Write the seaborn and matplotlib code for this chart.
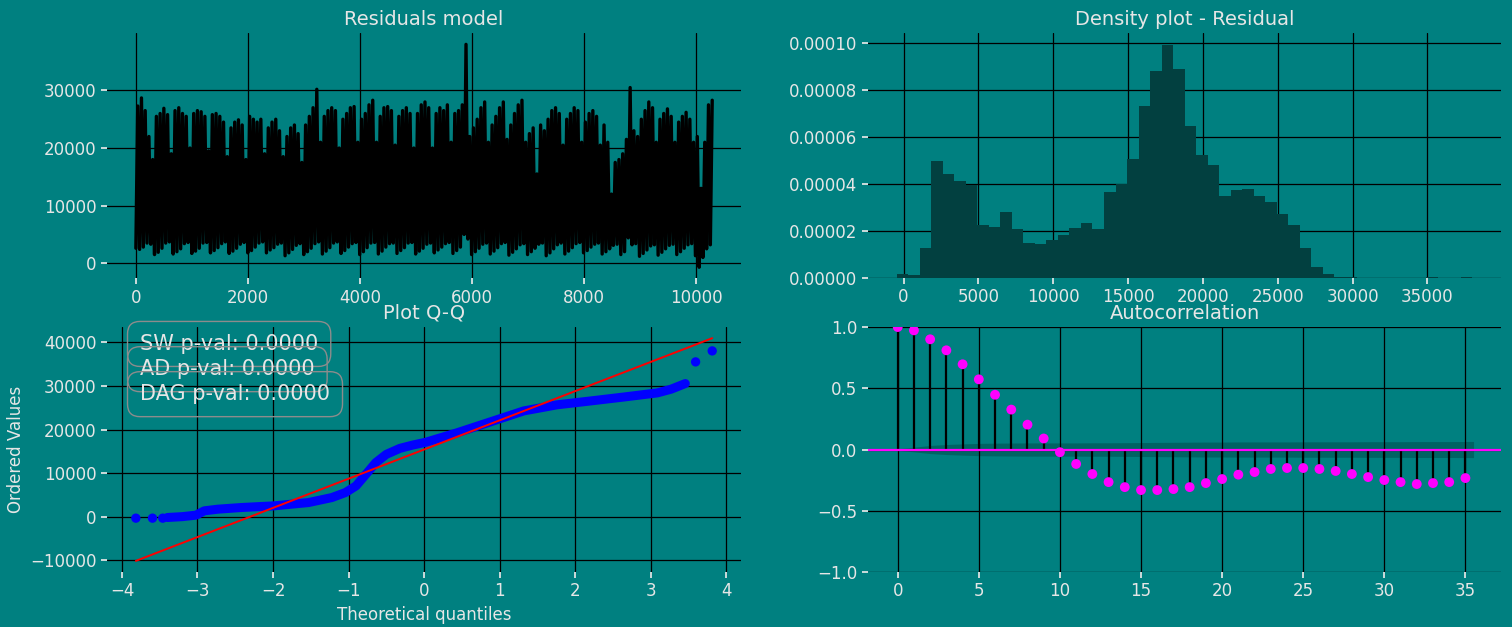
import numpy as np
import pandas as pd
import matplotlib
matplotlib.use("Agg")
import matplotlib.pyplot as plt
from matplotlib.ticker import FormatStrFormatter
import seaborn as sns

# Residual series: number of observations, and the alternating
# trough / peak values read off the picture (5 per weekly-ish cluster)
n_obs = 10290
resid_peaks = [
    27300, 28700, 26500, 22000, 18000,
    25500, 26000, 26900, 25800, 19000,
    26500, 27000, 26000, 25500, 20000,
    26000, 26500, 26300, 25500, 19500,
    25800, 26000, 25500, 24500, 18500,
    23500, 24500, 24900, 24000, 18000,
    25500, 25000, 24500, 25000, 19000,
    23500, 24500, 25000, 23000, 18500,
    22000, 23500, 24000, 22500, 17500,
    24000, 25500, 27000, 30200, 21000,
    25500, 26500, 27000, 26500, 20000,
    25000, 26000, 27000, 27200, 21000,
    25000, 26000, 27500, 28300, 21000,
    25500, 27000, 27200, 26500, 20500,
    25500, 26500, 27000, 26000, 20000,
    26000, 27500, 28000, 27000, 20000,
    26000, 27000, 26500, 27500, 21000,
    26000, 26500, 27500, 38000, 22000,
    23500, 25000, 27000, 28000, 21000,
    24000, 25500, 27000, 28000, 21500,
    24000, 26000, 27500, 28300, 21000,
    22500, 23500, 15500, 24000, 23000,
    25000, 26500, 27000, 26000, 20500,
    25000, 26000, 27000, 26500, 21000,
    24500, 26000, 26500, 25500, 20500,
    24000, 21000, 12000, 17500, 18000,
    19000, 21500, 30500, 23000, 22000,
    25000, 26500, 28000, 27000, 21000,
    25000, 26000, 26800, 25500, 21000,
    24500, 25500, 26200, 25000, 21000,
    22000, 13000, 21000, 27500, 28300,
]
resid_troughs = [
    2600, 2400, 2800, 3500, 3300,
    1500, 1900, 2600, 3500, 3700,
    1600, 2000, 2500, 3400, 3600,
    1700, 2100, 2600, 3500, 3600,
    1800, 2200, 2700, 3400, 3700,
    1700, 2100, 2600, 3300, 3600,
    1800, 2200, 2800, 3500, 3700,
    1800, 2300, 2700, 3300, 3500,
    1300, 1800, 2400, 3100, 3400,
    1500, 2000, 2600, 3400, 3700,
    1600, 2100, 2700, 3500, 3700,
    1700, 2200, 2800, 3400, 3600,
    1500, 2000, 2700, 3500, 3600,
    1600, 2100, 2800, 3400, 3500,
    1700, 2200, 2700, 3500, 3600,
    1600, 2100, 2600, 3300, 3500,
    1800, 2300, 2800, 3400, 3600,
    1700, 2200, 2800, 5000, 4200,
    1500, 2000, 2600, 3300, 3500,
    1600, 2100, 2700, 3400, 3600,
    1400, 1900, 2500, 3200, 3400,
    1500, 2000, 2600, 3300, 3500,
    1300, 1800, 2500, 3200, 3500,
    1600, 2100, 2700, 3400, 3600,
    1800, 2200, 2800, 3300, 3500,
    1600, 2000, 2500, 3100, 3300,
    1500, 2000, 4400, 3200, 3400,
    1200, 1700, 2300, 3000, 3200,
    1400, 1900, 2500, 3100, 3300,
    1500, 2000, 2600, 3200, 3400,
    1300, -700, 1000, 2500, 3200,
]

# Density histogram of the residuals
hist_min, hist_max, hist_nbins = -450, 38000, 50
hist_density = [
    1.6e-6, 1.1e-6, 1.26e-5, 5.0e-5, 4.42e-5, 4.11e-5, 3.97e-5, 2.24e-5,
    2.15e-5, 2.79e-5, 2.07e-5, 1.47e-5, 1.43e-5, 1.60e-5, 1.81e-5, 2.11e-5,
    2.32e-5, 2.07e-5, 3.68e-5, 4.02e-5, 5.08e-5, 7.34e-5, 8.82e-5, 9.94e-5,
    8.91e-5, 6.49e-5, 5.25e-5, 4.83e-5, 3.51e-5, 3.73e-5, 3.77e-5, 3.47e-5,
    3.23e-5, 2.71e-5, 2.24e-5, 1.26e-5, 4.7e-6, 1.6e-6, 3e-7, 3e-7,
    0, 0, 0, 0, 0, 0, 2e-7, 0, 0, 2e-7,
]

# Q-Q plot: body of the ordered values, isolated tail points, fitted line
qq_theoretical = [-3.40, -3.20, -3.02, -2.91, -2.73, -2.42, -1.99, -1.53,
                  -1.22, -1.04, -0.90, -0.77, -0.64, -0.50, -0.32, -0.15,
                  0.02, 0.44, 0.88, 1.32, 1.76, 2.21, 2.65, 3.09, 3.27, 3.46]
qq_ordered = [-150, 50, 390, 1380, 1760, 2140, 2520, 3280,
              4430, 5580, 7110, 9750, 12430, 14330, 15710, 16470,
              17100, 19300, 21800, 24300, 25700, 26600, 27500, 28440, 29280, 30580]
qq_tail_theoretical = [-3.816, -3.596, -3.46, 3.596, 3.816]
qq_tail_ordered = [-300, -300, -300, 35550, 38070]
qq_fit_theoretical = [-3.816, 3.816]
qq_fit_ordered = [-10100, 40990]
pvalue_labels = ["SW p-val: 0.0000", "AD p-val: 0.0000", "DAG p-val: 0.0000"]

# Autocorrelation
acf_lags = list(range(36))
acf_values = [1.0, 0.973, 0.90, 0.81, 0.696, 0.573, 0.447, 0.326, 0.203, 0.09,
              -0.022, -0.118, -0.20, -0.266, -0.307, -0.331, -0.331, -0.323,
              -0.307, -0.274, -0.241, -0.205, -0.184, -0.159, -0.151, -0.151,
              -0.159, -0.175, -0.20, -0.225, -0.249, -0.266, -0.282, -0.274,
              -0.266, -0.233]
acf_conf_half = [0.0, 0.019, 0.033, 0.041, 0.046, 0.05, 0.052, 0.053, 0.054,
                 0.054, 0.054, 0.054, 0.055, 0.055, 0.056, 0.057, 0.058, 0.059,
                 0.06, 0.061, 0.061, 0.062, 0.062, 0.062, 0.062, 0.063, 0.063,
                 0.063, 0.063, 0.064, 0.064, 0.064, 0.065, 0.065, 0.065, 0.066]

bg = "#008080"
fg = "#e6e6e6"

sns.set_theme(style="whitegrid")
plt.rcParams.update({
    "figure.facecolor": bg,
    "axes.facecolor": bg,
    "savefig.facecolor": bg,
    "grid.color": "black",
    "grid.linewidth": 0.9,
    "text.color": fg,
    "axes.labelcolor": fg,
    "xtick.color": fg,
    "ytick.color": fg,
    "xtick.bottom": True,
    "ytick.left": True,
    "xtick.major.size": 4,
    "ytick.major.size": 4,
    "xtick.labelsize": 12,
    "ytick.labelsize": 12,
    "axes.labelsize": 12,
    "axes.titlesize": 14,
    "axes.titlecolor": fg,
})
plt.rcParams["font.family"] = ["DejaVu Sans"]

fig = plt.figure(figsize=(15.12, 6.27), dpi=100)
ax_res = fig.add_axes([0.0708, 0.556, 0.4193, 0.391])
ax_den = fig.add_axes([0.5741, 0.557, 0.4187, 0.390])
ax_qq = fig.add_axes([0.0708, 0.0877, 0.4193, 0.3907])
ax_acf = fig.add_axes([0.5741, 0.0877, 0.4187, 0.3907])

# Residuals model
resid = np.empty(2 * len(resid_peaks))
resid[0::2] = resid_troughs
resid[1::2] = resid_peaks
idx = np.linspace(0, n_obs, len(resid))
sns.lineplot(x=idx, y=resid, ax=ax_res, color="black", linewidth=2.4)
ax_res.set_title("Residuals model")
ax_res.set_xlabel("")
ax_res.set_ylabel("")

# Density plot
bin_width = (hist_max - hist_min) / hist_nbins
hist_df = pd.DataFrame({
    "residual": hist_min + bin_width * (np.arange(hist_nbins) + 0.5),
    "density": hist_density,
})
sns.histplot(data=hist_df, x="residual", weights="density",
             bins=hist_nbins, binrange=(hist_min, hist_max),
             ax=ax_den, color="#024040", alpha=1, edgecolor="none", linewidth=0)
ax_den.set_title("Density plot - Residual")
ax_den.set_xlabel("")
ax_den.set_ylabel("")
ax_den.set_yticks([0, 2e-5, 4e-5, 6e-5, 8e-5, 1e-4])
ax_den.yaxis.set_major_formatter(FormatStrFormatter("%.5f"))

# Q-Q plot
ax_qq.plot(qq_theoretical, qq_ordered, color="blue", linewidth=6.5,
           solid_capstyle="round", solid_joinstyle="round")
sns.scatterplot(x=qq_tail_theoretical, y=qq_tail_ordered, ax=ax_qq,
                color="blue", s=45, edgecolor="none")
ax_qq.plot(qq_fit_theoretical, qq_fit_ordered, color="red", linewidth=1.4)
ax_qq.set_title("Plot Q-Q")
ax_qq.set_xlabel("Theoretical quantiles")
ax_qq.set_ylabel("Ordered Values")
for label, ypos in zip(pvalue_labels, [0.931, 0.828, 0.726]):
    ax_qq.text(0.052, ypos, label, transform=ax_qq.transAxes, fontsize=15,
               va="center", ha="left", color=fg,
               bbox=dict(boxstyle="round,pad=0.6", facecolor="none",
                         edgecolor="#8c8c8c", linewidth=1))

# Autocorrelation
band_x = np.array(acf_lags, dtype=float)
band_x[0] -= 0.5
band_x[-1] += 0.5
half = np.array(acf_conf_half)
ax_acf.fill_between(band_x, -half, half, color="black", alpha=0.22,
                    linewidth=0, zorder=1)
ax_acf.vlines(acf_lags, 0, acf_values, colors="black", linewidth=1.6, zorder=2)
ax_acf.axhline(0, color="#ff00ff", linewidth=1.6, zorder=3)
sns.scatterplot(x=acf_lags, y=acf_values, ax=ax_acf, color="#ff00ff",
                s=50, edgecolor="none", zorder=4)
ax_acf.set_title("Autocorrelation")
ax_acf.set_ylim(-1, 1)
ax_acf.set_xlim(-1.83, 37.2)

for ax in [ax_res, ax_den, ax_qq, ax_acf]:
    for spine in ax.spines.values():
        spine.set_visible(False)
    ax.grid(True, color="black")
    ax.set_axisbelow(True)

fig.savefig("out.png", dpi=100)
